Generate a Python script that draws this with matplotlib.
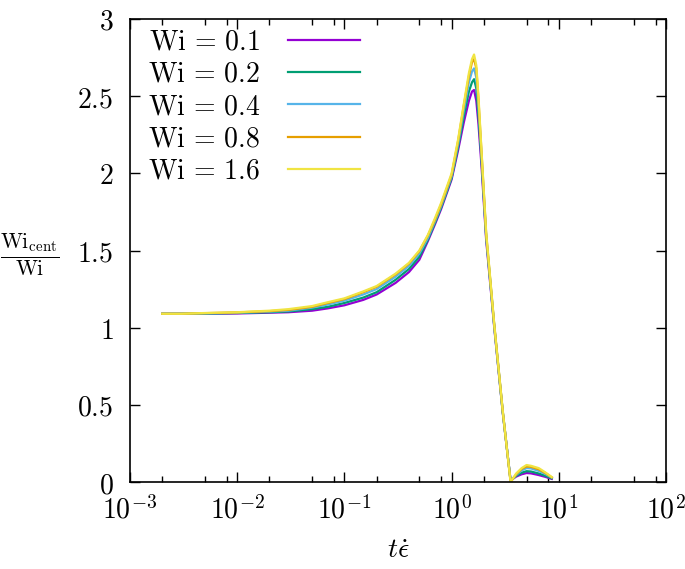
import numpy as np
import matplotlib
matplotlib.use("Agg")
import matplotlib.pyplot as plt
from matplotlib.ticker import FixedLocator, FixedFormatter

plt.rcParams['mathtext.fontset'] = 'cm'

# time axis (t * epsilon dot), shared by all series
t = [0.002, 0.003, 0.005, 0.01, 0.02, 0.03, 0.05, 0.07, 0.1, 0.15, 0.2, 0.3,
     0.4, 0.5, 0.6, 0.7, 0.8, 0.9, 1.0, 1.15, 1.3, 1.45, 1.55, 1.62, 1.7, 1.78,
     1.9, 2.1, 2.5, 3.0, 3.55, 4.0, 4.5, 5.0, 5.5, 6.5, 7.5, 8.6]

wi_labels = ['0.1', '0.2', '0.4', '0.8', '1.6']
colors = ['#9400d3', '#009e73', '#56b4e9', '#e69f00', '#f0e442']

wi_01 = [1.09, 1.09, 1.09, 1.092, 1.097, 1.10, 1.11, 1.125, 1.145, 1.18, 1.215, 1.29,
         1.36, 1.44, 1.56, 1.67, 1.77, 1.87, 1.96, 2.15, 2.33, 2.47, 2.53, 2.54, 2.47, 2.32,
         2.05, 1.57, 1.00, 0.45, 0.01, 0.035, 0.05, 0.058, 0.056, 0.045, 0.033, 0.02]
wi_02 = [1.09, 1.09, 1.091, 1.095, 1.10, 1.105, 1.12, 1.135, 1.16, 1.195, 1.23, 1.31,
         1.38, 1.46, 1.57, 1.68, 1.78, 1.88, 1.97, 2.17, 2.37, 2.53, 2.59, 2.61, 2.55, 2.38,
         2.09, 1.59, 1.01, 0.45, 0.01, 0.04, 0.06, 0.07, 0.068, 0.055, 0.04, 0.024]
wi_04 = [1.09, 1.09, 1.092, 1.097, 1.104, 1.11, 1.13, 1.15, 1.175, 1.215, 1.25, 1.33,
         1.40, 1.48, 1.58, 1.69, 1.79, 1.89, 1.98, 2.19, 2.41, 2.59, 2.66, 2.68, 2.62, 2.44,
         2.12, 1.60, 1.01, 0.46, 0.005, 0.045, 0.075, 0.09, 0.088, 0.072, 0.052, 0.028]
wi_08 = [1.09, 1.09, 1.094, 1.099, 1.107, 1.115, 1.135, 1.16, 1.185, 1.23, 1.265, 1.345,
         1.415, 1.495, 1.595, 1.70, 1.80, 1.90, 1.99, 2.21, 2.44, 2.63, 2.72, 2.74, 2.68, 2.48,
         2.14, 1.61, 1.02, 0.46, 0.0, 0.05, 0.085, 0.10, 0.098, 0.082, 0.058, 0.03]
wi_16 = [1.09, 1.09, 1.095, 1.10, 1.11, 1.12, 1.14, 1.165, 1.19, 1.235, 1.27, 1.35,
         1.42, 1.50, 1.60, 1.71, 1.81, 1.91, 2.00, 2.22, 2.45, 2.65, 2.74, 2.77, 2.70, 2.50,
         2.15, 1.62, 1.02, 0.46, 0.0, 0.055, 0.09, 0.11, 0.105, 0.09, 0.062, 0.032]
series = [wi_01, wi_02, wi_04, wi_08, wi_16]

fig = plt.figure(figsize=(6.85, 5.69), dpi=100)
ax = fig.add_axes([130 / 685, 1 - 482 / 569, 536 / 685, 463 / 569])

for vals, lab, col in zip(series, wi_labels, colors):
    ax.plot(t, vals, color=col, lw=1.6, label=r'$\mathrm{Wi}\,=\,%s$' % lab)

ax.set_xscale('log')
ax.set_xlim(1e-3, 1e2)
ax.set_ylim(0, 3)

xmaj = [1e-3, 1e-2, 1e-1, 1e0, 1e1, 1e2]
ax.xaxis.set_major_locator(FixedLocator(xmaj))
ax.xaxis.set_major_formatter(FixedFormatter([r'$10^{%d}$' % e for e in range(-3, 3)]))
xmin = [m * d for d in [1e-3, 1e-2, 1e-1, 1e0, 1e1] for m in (2, 5, 8)]
ax.xaxis.set_minor_locator(FixedLocator(xmin))
ax.xaxis.set_minor_formatter(FixedFormatter([''] * len(xmin)))

yticks = [0, 0.5, 1, 1.5, 2, 2.5, 3]
ax.set_yticks(yticks)
ax.set_yticklabels([r'$%g$' % v for v in yticks])

ax.tick_params(which='both', direction='in', top=True, right=True, width=1)
ax.tick_params(which='major', length=7, labelsize=20)
ax.tick_params(axis='y', pad=12)
ax.tick_params(axis='x', pad=10)
ax.tick_params(which='minor', length=4)
for s in ax.spines.values():
    s.set_linewidth(1.2)

ax.set_xlabel(r'$t\dot{\epsilon}$', fontsize=20, labelpad=8)
fig.text(30 / 685, 1 - 255 / 569, r'$\frac{\mathrm{Wi}_{\mathrm{cent}}}{\mathrm{Wi}}$',
         fontsize=22, ha='center', va='center')

ax.legend(loc='upper left', frameon=False, markerfirst=False, fontsize=20,
          handlelength=2.6, handletextpad=1.0, labelspacing=0.15,
          borderaxespad=0.0, bbox_to_anchor=(0.012, 1.005))

fig.savefig('out.png', dpi=100)
